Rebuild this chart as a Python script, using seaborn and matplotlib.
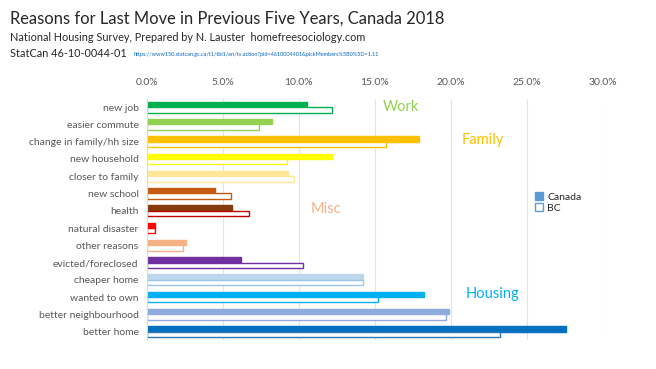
import pandas as pd
import seaborn as sns
import matplotlib.pyplot as plt
from matplotlib.patches import Patch
from matplotlib.ticker import PercentFormatter

# Werte (Anteil in %)
reasons = ["new job", "easier commute", "change in family/hh size", "new household",
           "closer to family", "new school", "health", "natural disaster",
           "other reasons", "evicted/foreclosed", "cheaper home", "wanted to own",
           "better neighbourhood", "better home"]
canada = [10.5, 8.2, 17.9, 12.2, 9.3, 4.5, 5.6, 0.5, 2.6, 6.2, 14.2, 18.2, 19.9, 27.6]
bc = [12.2, 7.4, 15.7, 9.2, 9.7, 5.5, 6.7, 0.5, 2.4, 10.3, 14.2, 15.2, 19.7, 23.2]
bar_colors = ["#00B050", "#92D050", "#FFC000", "#FFFF00", "#FFE699", "#C55A11", "#843C0C",
              "#FF0000", "#F4B183", "#7030A0", "#BDD7EE", "#00B0F0", "#8FAADC", "#0070C0"]
bc_edges = ["#00B050", "#92D050", "#FFC000", "#FFFF00", "#FFE699", "#C55A11", "#C00000",
            "#FF0000", "#F4B183", "#7030A0", "#9DC3E6", "#00B0F0", "#8FAADC", "#2E75B6"]

df = pd.DataFrame({
    "reason": reasons * 2,
    "share": canada + bc,
    "region": ["Canada"] * len(reasons) + ["BC"] * len(reasons),
})

sns.set_style("white")
plt.rcParams["font.family"] = ["Lato", "DejaVu Sans"]
fig = plt.figure(figsize=(6.56, 3.69), dpi=100)
ax = fig.add_axes([0.224, 0.078, 0.695, 0.655])

sns.barplot(data=df, y="reason", x="share", hue="region", orient="h",
            width=0.62, gap=0, legend=False, ax=ax)

for i, p in enumerate(ax.containers[0]):
    p.set_facecolor(bar_colors[i])
    p.set_edgecolor(bar_colors[i])
for i, p in enumerate(ax.containers[1]):
    p.set_facecolor("white")
    p.set_edgecolor(bc_edges[i])
    p.set_linewidth(1.0)

ax.set_xlim(0, 30)
ax.xaxis.set_major_formatter(PercentFormatter(decimals=1))
ax.set_xticks(range(0, 31, 5))
ax.xaxis.tick_top()
ax.tick_params(axis="x", length=0, labelsize=7.5, labelcolor="#595959", pad=8)
ax.tick_params(axis="y", length=0, labelsize=7.5, labelcolor="#595959", pad=6)
ax.set_xlabel("")
ax.set_ylabel("")
ax.grid(axis="x", color="#E4E4E4", linewidth=0.8)
ax.set_axisbelow(True)
for s in ["top", "right", "bottom"]:
    ax.spines[s].set_visible(False)
ax.spines["left"].set_color("#D9D9D9")

ax.text(15.5, 0.2, "Work", color="#92D050", fontsize=10.5)
ax.text(20.7, 2.15, "Family", color="#FFC000", fontsize=10.5)
ax.text(10.8, 6.15, "Misc", color="#F4B183", fontsize=10.5)
ax.text(21.0, 11.05, "Housing", color="#00B0F0", fontsize=10.5)

handles = [Patch(facecolor="#5B9BD5", edgecolor="#5B9BD5", label="Canada"),
           Patch(facecolor="white", edgecolor="#5B9BD5", label="BC")]
ax.legend(handles=handles, loc="center left", bbox_to_anchor=(0.83, 0.57), frameon=False,
          fontsize=7.5, handlelength=0.8, handleheight=0.8, handletextpad=0.4, labelspacing=0.1)

fig.text(0.015, 0.935, "Reasons for Last Move in Previous Five Years, Canada 2018", fontsize=11.9)
fig.text(0.015, 0.89, "National Housing Survey, Prepared by N. Lauster  homefreesociology.com", fontsize=7.8)
fig.text(0.015, 0.845, "StatCan 46-10-0044-01", fontsize=7.8)
fig.text(0.203, 0.848,
         "https://www150.statcan.gc.ca/t1/tbl1/en/tv.action?pid=4610004401&pickMembers%5B0%5D=1.11",
         fontsize=4, color="#0563C1")

fig.savefig("out.png", dpi=100)
